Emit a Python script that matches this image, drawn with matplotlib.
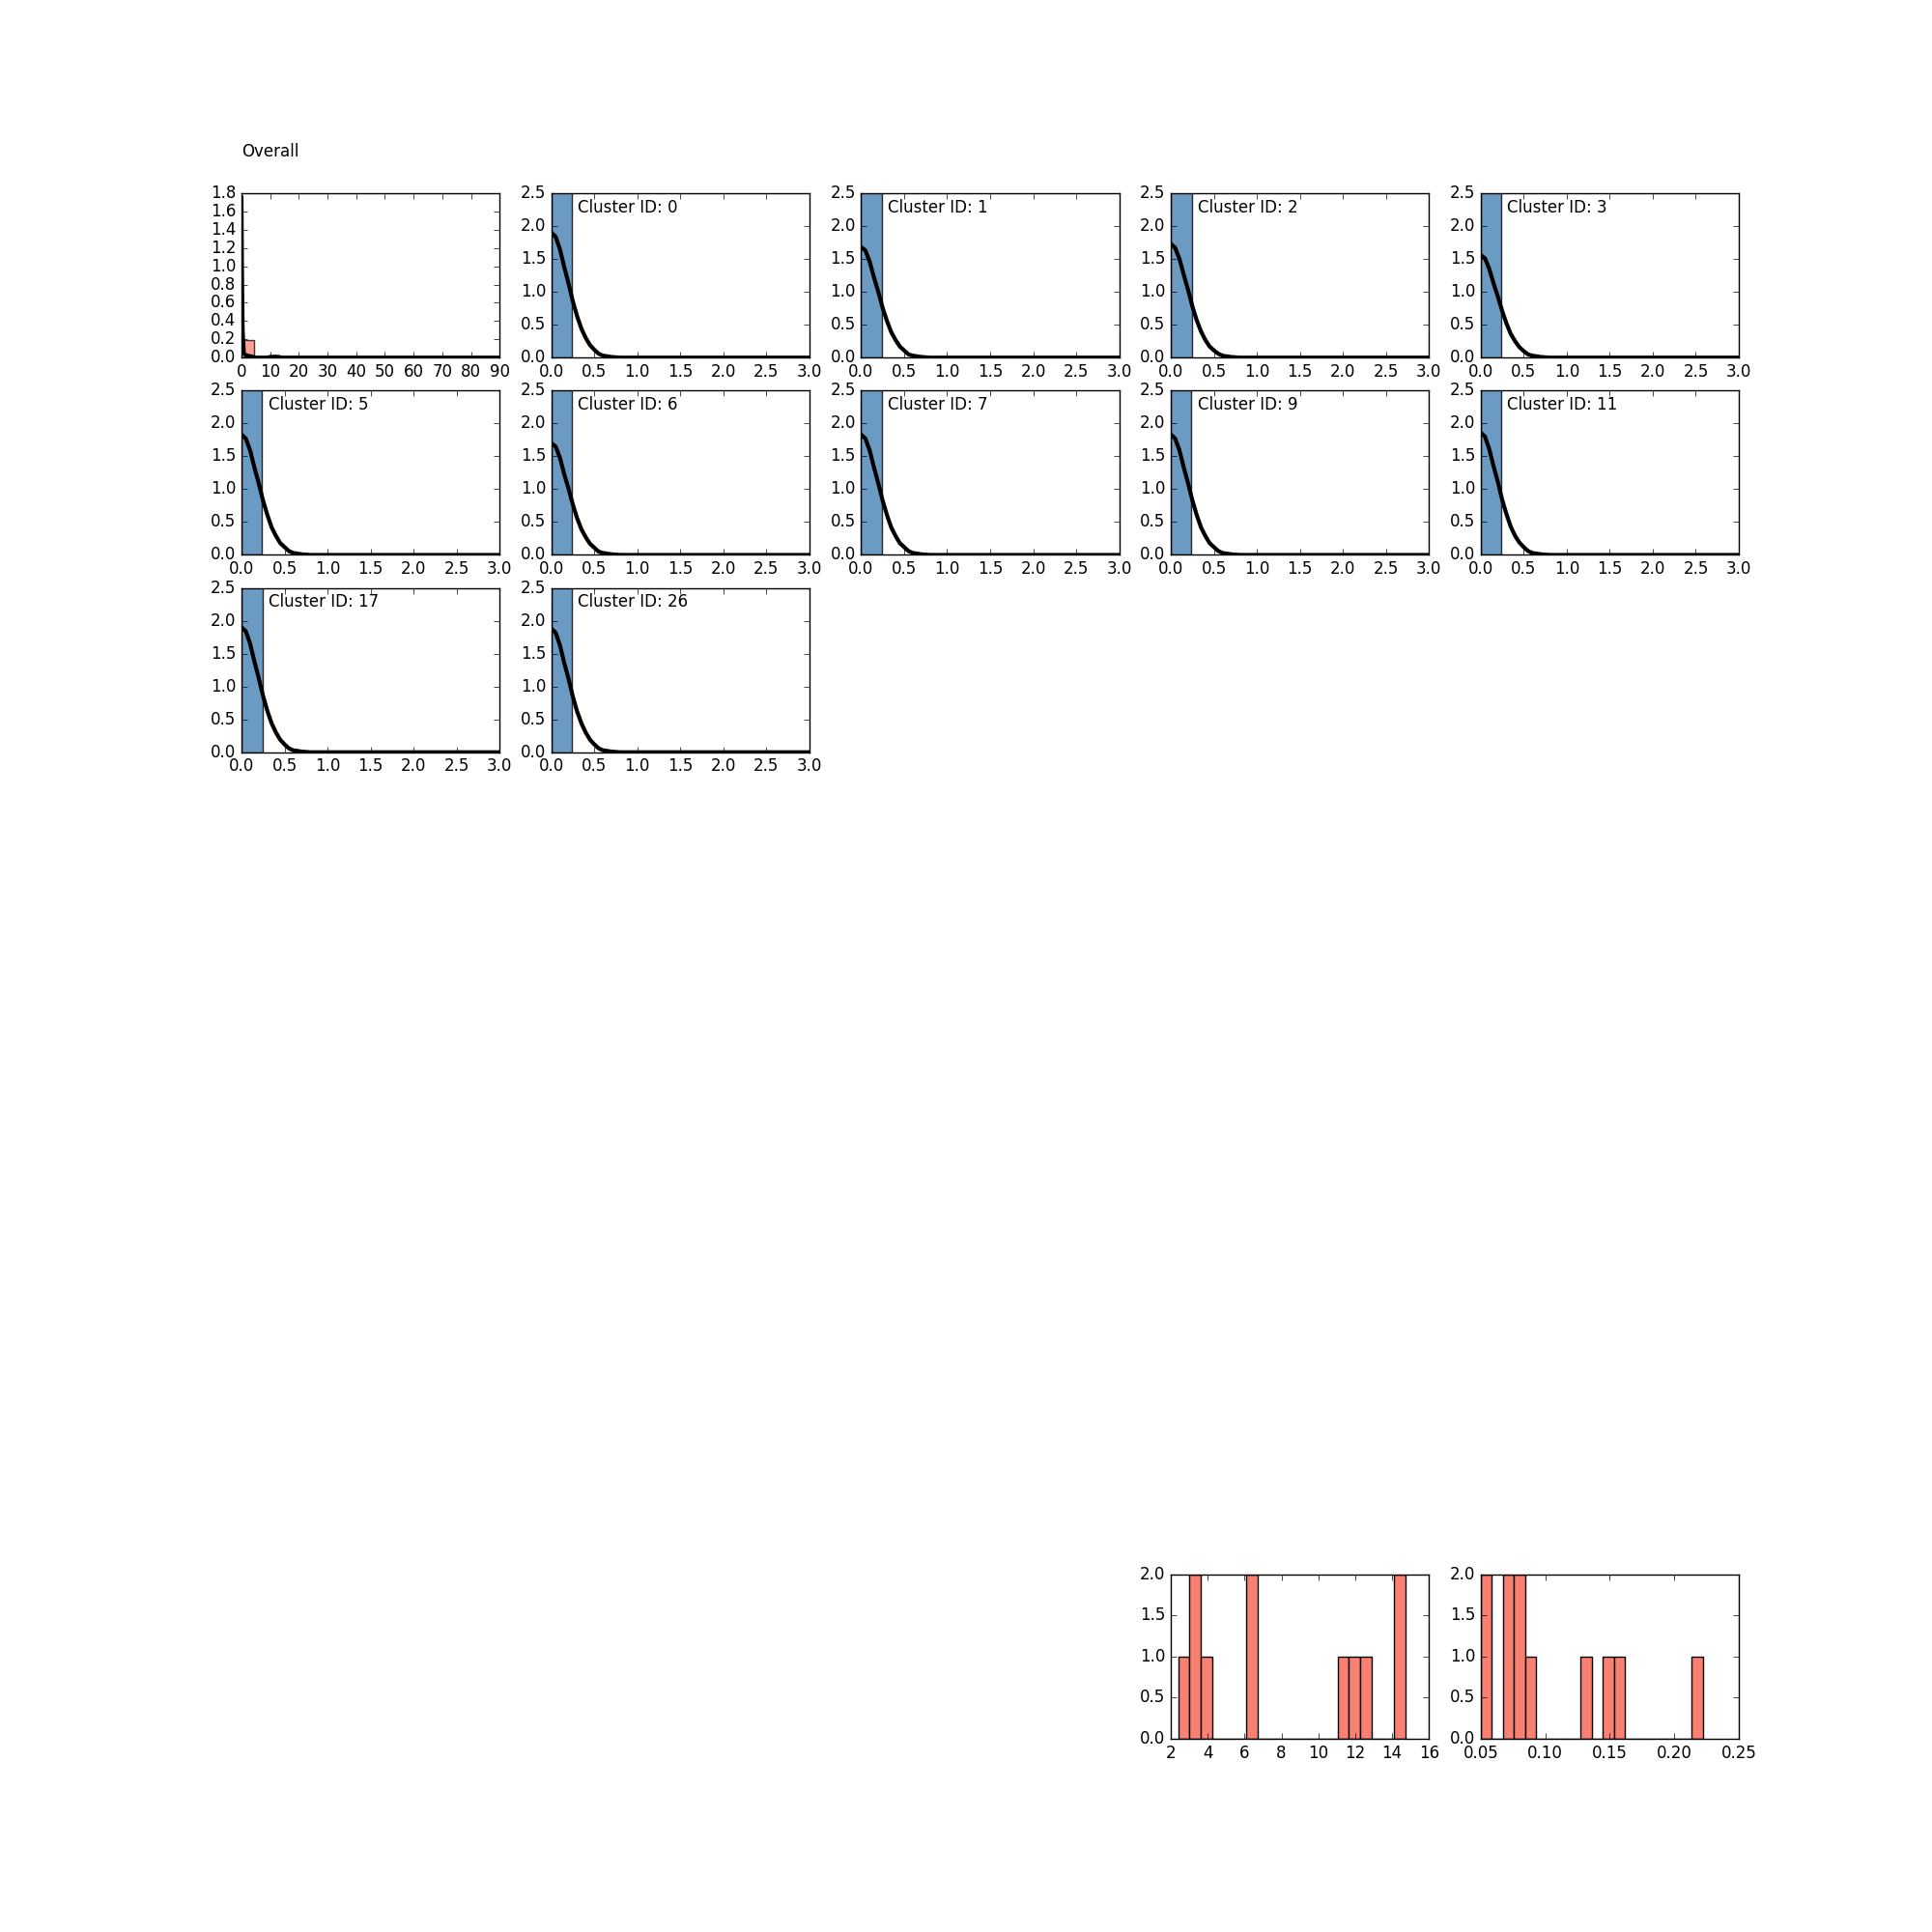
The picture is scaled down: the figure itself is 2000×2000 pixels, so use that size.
import matplotlib
matplotlib.use("Agg")
import matplotlib.pyplot as plt

plt.style.use("classic")

# ---------------- data ----------------
cluster_ids = [0, 1, 2, 3, 5, 6, 7, 9, 11, 17, 26]
cluster_bar_right = [0.24, 0.243, 0.247, 0.244, 0.24, 0.24, 0.24, 0.24, 0.24, 0.244, 0.24]
cluster_bar_height = [4.0] * 11

kde_x = [0.0, 0.05, 0.10, 0.15, 0.20, 0.25, 0.30, 0.35, 0.40, 0.45, 0.50,
         0.55, 0.60, 0.70, 0.80, 1.00, 3.00]
kde_y = {
    0:  [1.90, 1.84, 1.65, 1.38, 1.13, 0.86, 0.63, 0.44, 0.30, 0.19, 0.12, 0.06, 0.03, 0.01, 0.00, 0.00, 0.00],
    1:  [1.68, 1.63, 1.46, 1.22, 1.00, 0.76, 0.56, 0.39, 0.27, 0.17, 0.11, 0.05, 0.03, 0.01, 0.00, 0.00, 0.00],
    2:  [1.73, 1.67, 1.50, 1.26, 1.03, 0.78, 0.57, 0.40, 0.27, 0.17, 0.11, 0.06, 0.03, 0.01, 0.00, 0.00, 0.00],
    3:  [1.56, 1.51, 1.35, 1.13, 0.93, 0.71, 0.52, 0.36, 0.25, 0.16, 0.10, 0.05, 0.03, 0.01, 0.00, 0.00, 0.00],
    5:  [1.83, 1.77, 1.59, 1.33, 1.09, 0.83, 0.61, 0.42, 0.29, 0.18, 0.12, 0.06, 0.03, 0.01, 0.00, 0.00, 0.00],
    6:  [1.70, 1.65, 1.48, 1.23, 1.01, 0.77, 0.56, 0.39, 0.27, 0.17, 0.11, 0.05, 0.03, 0.01, 0.00, 0.00, 0.00],
    7:  [1.83, 1.77, 1.59, 1.33, 1.09, 0.83, 0.61, 0.42, 0.29, 0.18, 0.12, 0.06, 0.03, 0.01, 0.00, 0.00, 0.00],
    9:  [1.83, 1.77, 1.59, 1.33, 1.09, 0.83, 0.61, 0.42, 0.29, 0.18, 0.12, 0.06, 0.03, 0.01, 0.00, 0.00, 0.00],
    11: [1.86, 1.80, 1.61, 1.35, 1.11, 0.84, 0.62, 0.43, 0.29, 0.19, 0.12, 0.06, 0.03, 0.01, 0.00, 0.00, 0.00],
    17: [1.90, 1.84, 1.65, 1.38, 1.13, 0.86, 0.63, 0.44, 0.30, 0.19, 0.12, 0.06, 0.03, 0.01, 0.00, 0.00, 0.00],
    26: [1.88, 1.82, 1.63, 1.36, 1.12, 0.85, 0.62, 0.44, 0.30, 0.19, 0.12, 0.06, 0.03, 0.01, 0.00, 0.00, 0.00],
}

overall_bar_left = [0.0]
overall_bar_width = [4.3]
overall_bar_height = [0.19]
overall_kde_x = [0.0, 0.15, 0.4, 0.8, 1.5, 2.5, 3.5, 5.0, 9.0, 10.0, 11.5, 13.0, 14.0, 20.0, 90.0]
overall_kde_y = [1.75, 1.0, 0.3, 0.05, 0.025, 0.02, 0.012, 0.0, 0.0, 0.008, 0.01, 0.008, 0.0, 0.0, 0.0]

stat_a = [2.40, 3.2, 3.4, 3.9, 6.3, 6.5, 11.3, 11.9, 12.6, 14.4, 14.74]
stat_b = [0.050, 0.055, 0.070, 0.073, 0.078, 0.082, 0.088, 0.132, 0.149, 0.158, 0.2223]

# ---------------- figure ----------------
fig, axes = plt.subplots(8, 5, figsize=(20, 20), dpi=100)
fig.patch.set_facecolor("white")
fig.subplots_adjust(left=0.125, right=0.9, bottom=0.1, top=0.9, wspace=0.2, hspace=0.2)

for ax in axes.flat:
    ax.set_visible(False)

# Overall panel
ax = axes[0, 0]
ax.set_visible(True)
ax.bar(overall_bar_left, overall_bar_height, width=overall_bar_width, align="edge",
       color="salmon", alpha=0.75, edgecolor="black", linewidth=1)
ax.plot(overall_kde_x, overall_kde_y, color="black", linewidth=3)
ax.set_xlim(0, 90)
ax.set_ylim(0, 1.8)
ax.set_xticks(range(0, 91, 10))
ax.set_yticks([i * 0.2 for i in range(10)])
ax.text(0.0, 1.222, "Overall", transform=ax.transAxes, fontsize=12, va="baseline", ha="left")

positions = [(0, 1), (0, 2), (0, 3), (0, 4),
             (1, 0), (1, 1), (1, 2), (1, 3), (1, 4),
             (2, 0), (2, 1)]

for cid, (r, c), br, bh in zip(cluster_ids, positions, cluster_bar_right, cluster_bar_height):
    ax = axes[r, c]
    ax.set_visible(True)
    ax.bar([0.0], [bh], width=[br], align="edge", color="steelblue", alpha=0.8,
           edgecolor="black", linewidth=1)
    ax.plot(kde_x, kde_y[cid], color="black", linewidth=3)
    ax.set_xlim(0, 3)
    ax.set_ylim(0, 2.5)
    ax.set_xticks([0, 0.5, 1.0, 1.5, 2.0, 2.5, 3.0])
    ax.set_yticks([0, 0.5, 1.0, 1.5, 2.0, 2.5])
    ax.text(0.103, 0.885, "Cluster ID: %d" % cid, transform=ax.transAxes, fontsize=12,
            va="baseline", ha="left")

ax = axes[7, 3]
ax.set_visible(True)
ax.hist(stat_a, bins=20, color="salmon", edgecolor="black", linewidth=1)
ax.set_xlim(2, 16)
ax.set_ylim(0, 2)
ax.set_yticks([0, 0.5, 1.0, 1.5, 2.0])

ax = axes[7, 4]
ax.set_visible(True)
ax.hist(stat_b, bins=20, color="salmon", edgecolor="black", linewidth=1)
ax.set_xlim(0.05, 0.25)
ax.set_ylim(0, 2)
ax.set_xticks([0.05, 0.10, 0.15, 0.20, 0.25])
ax.set_yticks([0, 0.5, 1.0, 1.5, 2.0])

fig.savefig("out.png", dpi=100, facecolor="white")
